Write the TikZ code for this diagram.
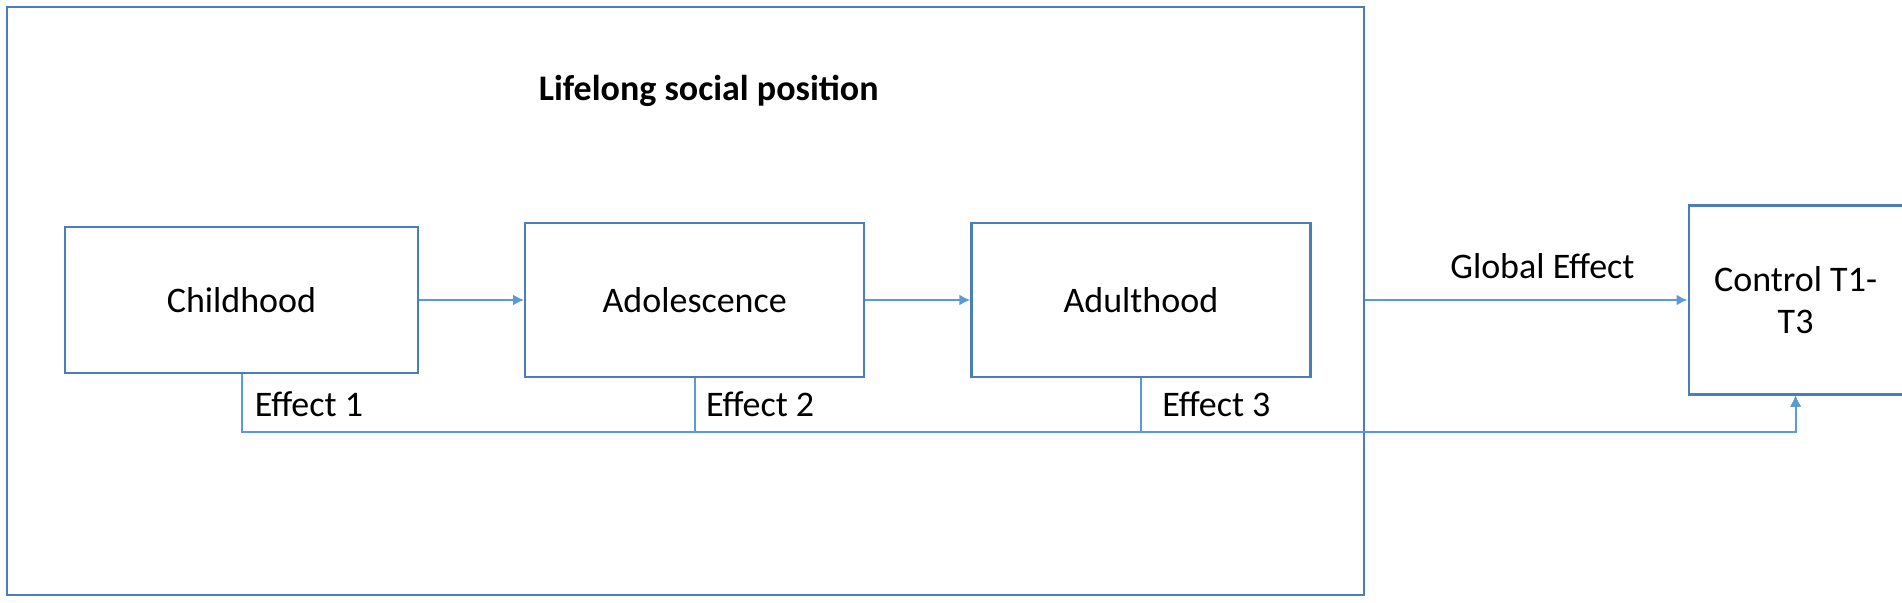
\documentclass[tikz,border=0pt]{standalone}
\usepackage{fontspec}
\setmainfont{Carlito}
\usetikzlibrary{arrows.meta,positioning}
\definecolor{boxblue}{RGB}{74,126,187}
\definecolor{linkblue}{RGB}{91,155,213}

\begin{document}
\begin{tikzpicture}[
  >={Latex[length=5.5pt,width=5.5pt]},
  every node/.style={font=\fontsize{18}{21}\selectfont},
  stage/.style={draw=boxblue,line width=1.1pt,minimum width=169.5pt,minimum height=77pt,inner sep=2pt},
  lbl/.style={inner sep=0pt},
  link/.style={draw=linkblue,line width=1pt},
  node distance=52.5pt,
  ]
  \useasboundingbox (0,0) rectangle (951pt,-301.5pt);
  \node[draw=boxblue, line width=1.1pt, minimum width=678.5pt, minimum height=294pt] (life) at (342.75pt,-150.5pt) {};
  \node[stage, minimum width=176.5pt, minimum height=73pt] (child) at (120.75pt,-150pt) {Childhood};
  \node[stage, right = of child] (adol) {Adolescence};
  \node[stage, right = of adol] (adult) {Adulthood};
  \node[stage, right = 188pt of adult, minimum width=107pt, minimum height=94.5pt, align=center] (ctrl) {Control T1-\\T3};
  \node[lbl, font=\bfseries\fontsize{18}{21}\selectfont, above = 60.5pt of adol.north, anchor=base, xshift=7pt] (title) {Lifelong social position};
  \node[lbl, below right = 21pt and 6.5pt of child.south, anchor=base west] (eff1) {Effect 1};
  \node[lbl, below right = 19pt and 5.5pt of adol.south, anchor=base west] (eff2) {Effect 2};
  \node[lbl, below right = 19pt and 10.5pt of adult.south, anchor=base west] (eff3) {Effect 3};
  \coordinate[below = 18pt of ctrl.south] (rail);

  \draw [link,->] (child) -- (adol);
  \draw [link,->] (adol) -- (adult);
  \draw [link,->] (life.east |- adult) -- node[lbl, above=10pt, pos=0.55] (glob) {Global Effect} (ctrl);
  \draw [link,->] (child.south) |- (rail) -- (ctrl.south);
  \draw [link,->] (adol.south) |- (rail) -- (ctrl.south);
  \draw [link,->] (adult.south) |- (rail) -- (ctrl.south);

\end{tikzpicture}
\end{document}
